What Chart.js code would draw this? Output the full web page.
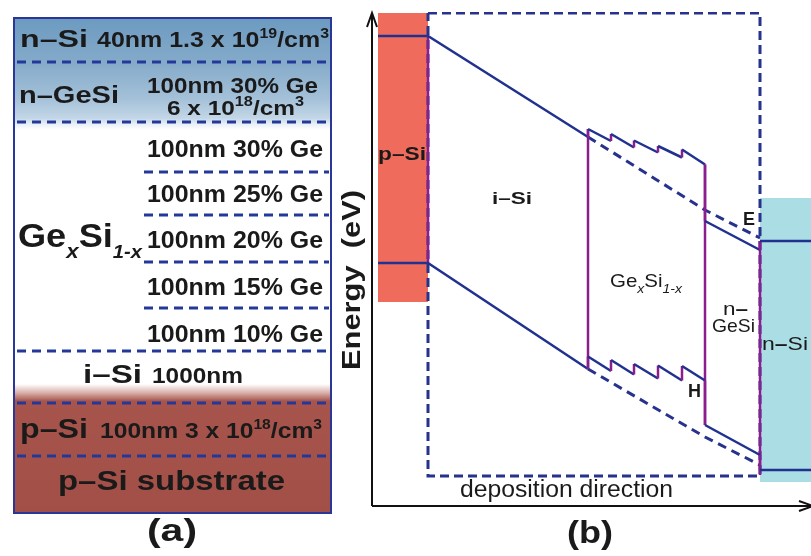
<!DOCTYPE html>
<html>
<head>
<meta charset="utf-8">
<script src="https://cdn.jsdelivr.net/npm/chart.js@4.4.1/dist/chart.umd.min.js"></script>
<style>
  html, body { margin: 0; padding: 0; background: #fff; }
  #marco { position: relative; width: 811px; height: 556px; overflow: hidden; }
  canvas { position: absolute; top: 0; }
  #capas { left: 0; }
  #bandas { left: 340px; }
</style>
</head>
<body>
<div id="marco">
  <canvas id="capas" width="340" height="556"></canvas>
  <canvas id="bandas" width="471" height="556"></canvas>
</div>
<script>
// (a) pila de capas, de arriba hacia abajo (grosor dibujado, no a escala en nm)
const layerNames = ['n-Si', 'n-GeSi', 'GeSi 30%', 'GeSi 25%', 'GeSi 20%', 'GeSi 15%', 'GeSi 10%', 'i-Si', 'p-Si', 'p-Si substrate'];
const layerHeights = [44, 60, 50, 43, 47, 46, 43, 52, 53, 57];

// (b) diagrama de bandas: x = posicion en direccion de deposicion, y = energia (u.a.)
const bandX = [1.2, 11.2, 43.2, 43.2, 47.8, 47.8, 52.4, 52.4, 57.2, 57.2, 62, 62, 66.6, 66.6, 77.6, 77.6, 87.8];
const conductionE = [94, 94, 73.8, 75.4, 73, 74.4, 71.7, 73.1, 70.7, 72, 69.7, 71.3, 68.3, 57, 51.2, 53, 53];
const valenceE = [48.6, 48.6, 27.4, 29.9, 27, 29.2, 26.3, 28.4, 25.5, 28.1, 25.1, 28, 25.1, 16.2, 10.2, 7.2, 7.2];
const extrapX = [43.2, 66.6, 77.6];
const conductionExtrap = [73.8, 59.2, 53.6];
const valenceExtrap = [27.4, 13.8, 8.2];
const interfaceX = [11.2, 43.2, 66.6, 77.6];
const interfaceTop = [94, 75.4, 68.3, 53];
const interfaceBottom = [48.6, 27.4, 16.2, 6.2];
const pSiX = [1.2, 11.2];
const pSiE = [98.6, 40.8];
const nSiX = [77.6, 87.8];
const nSiE = [61.6, 4.8];
const cellX = [11.2, 77.6];
const cellE = [98.6, 6];

const totalCapas = layerHeights.reduce((a, b) => a + b, 0);
const FF = '"Liberation Sans", Arial, sans-serif';
const B = (t, s, dy) => ({ t, f: 'bold ' + s + 'px ' + FF, dy: dy || 0 });
const R = (t, s, dy) => ({ t, f: s + 'px ' + FF, dy: dy || 0 });
const BI = (t, s, dy) => ({ t, f: 'italic bold ' + s + 'px ' + FF, dy: dy || 0 });
const RI = (t, s, dy) => ({ t, f: 'italic ' + s + 'px ' + FF, dy: dy || 0 });

// texto con partes (superindices, subindices) ajustado a un ancho
function textoRico(ctx, partes, x, y, ancho, angulo) {
    let natural = 0;
    partes.forEach(p => { ctx.font = p.f; natural += ctx.measureText(p.t).width; });
    ctx.save();
    ctx.translate(x, y);
    if (angulo) ctx.rotate(angulo);
    ctx.scale(ancho / natural, 1);
    ctx.fillStyle = '#1a1a1a';
    ctx.textBaseline = 'alphabetic';
    let cx = 0;
    partes.forEach(p => {
        ctx.font = p.f;
        ctx.fillText(p.t, cx, p.dy);
        cx += ctx.measureText(p.t).width;
    });
    ctx.restore();
}

/******************************** (a) CAPAS ********************************/
function rellenoCapas(context) {
    const chart = context.chart;
    if (!chart.chartArea) return '#ffffff';
    const y = chart.scales.y;
    const g = chart.ctx.createLinearGradient(0, y.getPixelForValue(0), 0, y.getPixelForValue(totalCapas));
    const f = v => v / totalCapas;
    g.addColorStop(0, '#6c9ac0');
    g.addColorStop(f(44), '#84aac9');
    g.addColorStop(f(80), '#a3c0d8');
    g.addColorStop(f(100), '#c2d6e6');
    g.addColorStop(f(106), '#e8eff6');
    g.addColorStop(f(112), '#ffffff');
    g.addColorStop(f(366), '#ffffff');
    g.addColorStop(f(375), '#d8aea8');
    g.addColorStop(f(383), '#a6544c');
    g.addColorStop(1, '#a24f48');
    return g;
}

const textosCapas = {
    id: 'textosCapas',
    afterDraw(chart) {
        const { ctx, chartArea: a, scales: { y } } = chart;
        // lineas discontinuas entre capas
        ctx.save();
        ctx.strokeStyle = '#24389a';
        ctx.lineWidth = 3;
        ctx.setLineDash([9, 6]);
        let acc = 0;
        for (let i = 0; i < layerHeights.length - 1; i++) {
            acc += layerHeights[i];
            const py = y.getPixelForValue(acc);
            const parcial = layerNames[i].startsWith('GeSi') && layerNames[i + 1].startsWith('GeSi');
            ctx.beginPath();
            ctx.moveTo(parcial ? a.left + 131 : a.left + 4, py);
            ctx.lineTo(a.right - 2, py);
            ctx.stroke();
        }
        ctx.setLineDash([]);
        ctx.strokeStyle = '#2b3796';
        ctx.lineWidth = 2;
        ctx.strokeRect(a.left + 1, a.top, a.right - a.left - 1, a.bottom - a.top);
        ctx.restore();

        const X = px => a.left + (px - 13);
        const Y = py => y.getPixelForValue(py - 18);
        const notas = [
            [20, 47, 68, [B('n–Si', 24)]],
            [97, 47, 232, [B('40nm 1.3 x 10', 22), B('19', 14, -9), B('/cm', 22), B('3', 14, -9)]],
            [19, 103, 100, [B('n–GeSi', 24)]],
            [147, 93, 171, [B('100nm 30% Ge', 22)]],
            [167, 115, 137, [B('6 x 10', 21), B('18', 14, -9), B('/cm', 21), B('3', 14, -9)]],
            [147, 157, 176, [B('100nm 30% Ge', 24)]],
            [147, 202, 176, [B('100nm 25% Ge', 24)]],
            [147, 248, 176, [B('100nm 20% Ge', 24)]],
            [147, 295, 176, [B('100nm 15% Ge', 24)]],
            [147, 342, 176, [B('100nm 10% Ge', 24)]],
            [18, 247, 124, [B('Ge', 34), BI('x', 21, 11), B('Si', 34), BI('1-x', 19, 11)]],
            [83, 383, 59, [B('i–Si', 25)]],
            [152, 383, 91, [B('1000nm', 22)]],
            [20, 438, 68, [B('p–Si', 27)]],
            [100, 438, 222, [B('100nm 3 x 10', 22), B('18', 14, -9), B('/cm', 22), B('3', 14, -9)]],
            [58, 490, 227, [B('p–Si substrate', 28)]],
            [147, 541, 50, [B('(a)', 32)]]
        ];
        notas.forEach(n => textoRico(ctx, n[3], X(n[0]), Y(n[1]), n[2]));
    }
};

new Chart(document.getElementById('capas'), {
    type: 'bar',
    data: {
        labels: ['capas'],
        datasets: layerNames.map((nombre, i) => ({
            label: nombre,
            data: [layerHeights[i]],
            backgroundColor: rellenoCapas,
            borderWidth: 0,
            barPercentage: 1,
            categoryPercentage: 1
        }))
    },
    options: {
        responsive: false,
        animation: false,
        layout: { padding: { left: 13, right: 9, top: 18, bottom: 43 } },
        plugins: { legend: { display: false }, tooltip: { enabled: false } },
        scales: {
            x: { display: false, stacked: true },
            y: { display: false, stacked: true, min: 0, max: totalCapas, reverse: true }
        }
    },
    plugins: [textosCapas]
});

/******************************** (b) BANDAS ********************************/
const AZUL = '#21318f';
const MORADO = '#8b1d8e';
const DISC = '#26328c';
const pts = (xs, ys) => xs.map((x, i) => ({ x: x, y: ys[i] }));

const ejesYTextos = {
    id: 'ejesYTextos',
    afterDraw(chart) {
        const { ctx, chartArea: a, scales: { x, y } } = chart;
        const x0 = x.getPixelForValue(0);
        const y0 = y.getPixelForValue(0);
        ctx.save();
        ctx.strokeStyle = '#111';
        ctx.lineWidth = 2;
        ctx.beginPath();
        ctx.moveTo(x0, y0); ctx.lineTo(x0, a.top + 1);
        ctx.moveTo(x0, y0); ctx.lineTo(a.right + 2, y0);
        ctx.moveTo(x0 - 5, a.top + 15); ctx.lineTo(x0, a.top + 1); ctx.lineTo(x0 + 5, a.top + 15);
        ctx.moveTo(a.right - 12, y0 - 5); ctx.lineTo(a.right + 2, y0); ctx.lineTo(a.right - 12, y0 + 5);
        ctx.stroke();
        ctx.restore();

        const notas = [
            [1.2, 69.2, 48, [B('p–Si', 18)]],
            [24, 60.4, 40, [B('i–Si', 17)]],
            [74.2, 56.2, 12, [B('E', 19)]],
            [63.2, 21.8, 13, [B('H', 19)]],
            [47.6, 43.8, 72, [R('Ge', 19), RI('x', 13, 6), R('Si', 19), RI('1-x', 13, 6)]],
            [70.2, 38.2, 25, [R('n', 19), B('–', 19)]],
            [68, 34.8, 43, [R('GeSi', 19)]],
            [78, 31.2, 46, [R('n', 19), B('–', 19), R('Si', 19)]],
            [17.6, 1.8, 213, [R('deposition direction', 23)]],
            [39, -7.4, 46, [B('(b)', 32)]]
        ];
        notas.forEach(n => textoRico(ctx, n[3], x.getPixelForValue(n[0]), y.getPixelForValue(n[1]), n[2]));
        textoRico(ctx, [B('Energy  (eV)', 26)], x.getPixelForValue(-2.4), y.getPixelForValue(27.2), 180, -Math.PI / 2);
    }
};

new Chart(document.getElementById('bandas'), {
    type: 'line',
    data: {
        datasets: [
            { label: 'p-Si', data: pts(pSiX, [pSiE[0], pSiE[0]]), fill: { value: pSiE[1] },
              backgroundColor: '#ef6c5c', borderColor: 'transparent', borderWidth: 0, order: 10 },
            { label: 'n-Si', data: pts(nSiX, [nSiE[0], nSiE[0]]), fill: { value: nSiE[1] },
              backgroundColor: '#abdde4', borderColor: 'transparent', borderWidth: 0, order: 10 },
            { label: 'celda', data: pts([cellX[0], cellX[1], cellX[1], cellX[0], cellX[0]], [cellE[0], cellE[0], cellE[1], cellE[1], cellE[0]]),
              borderColor: DISC, borderWidth: 3, borderDash: [9, 5], order: 8 },
            { label: 'Ec extrapolada', data: pts(extrapX, conductionExtrap),
              borderColor: DISC, borderWidth: 3, borderDash: [9, 6], order: 7 },
            { label: 'Ev extrapolada', data: pts(extrapX, valenceExtrap),
              borderColor: DISC, borderWidth: 3, borderDash: [9, 6], order: 7 },
            ...interfaceX.map((xi, i) => ({
                label: 'interfaz', data: pts([xi, xi], [interfaceTop[i], interfaceBottom[i]]),
                borderColor: MORADO, borderWidth: 2.5, order: 3
            })),
            { label: 'Ec', data: pts(bandX, conductionE), borderColor: AZUL, borderWidth: 2.5, order: 1,
              segment: { borderColor: c => c.p0.parsed.x === c.p1.parsed.x ? MORADO : undefined } },
            { label: 'Ev', data: pts(bandX, valenceE), borderColor: AZUL, borderWidth: 2.5, order: 1,
              segment: { borderColor: c => c.p0.parsed.x === c.p1.parsed.x ? MORADO : undefined } }
        ]
    },
    options: {
        responsive: false,
        animation: false,
        layout: { padding: { left: 32, right: 0, top: 12, bottom: 50 } },
        elements: { point: { radius: 0 }, line: { tension: 0 } },
        plugins: { legend: { display: false }, tooltip: { enabled: false } },
        scales: {
            x: { type: 'linear', display: false, min: 0, max: 87.8 },
            y: { type: 'linear', display: false, min: 0, max: 98.8 }
        }
    },
    plugins: [ejesYTextos]
});
</script>
</body>
</html>
